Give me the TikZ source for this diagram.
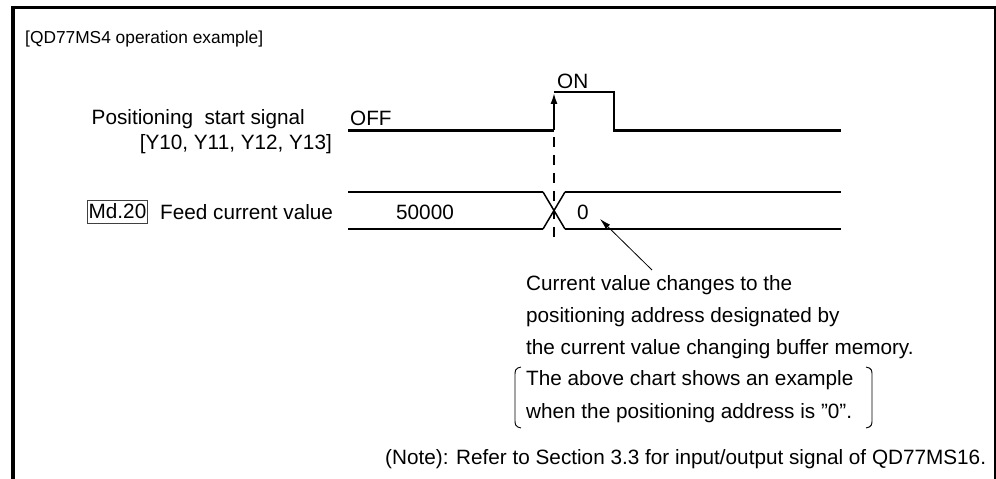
\documentclass[tikz,border=0pt]{standalone}
\usepackage{fontspec}
\setmainfont{Liberation Sans}
\usetikzlibrary{arrows.meta}
\begin{document}
\begin{tikzpicture}[x=1bp,y=-1bp,
  txt/.style={inner sep=0pt, font=\fontsize{20.8}{24}\selectfont},
  sig/.style={line width=2.7bp, line join=miter},
  xline/.style={line width=1.5bp},
  dashline/.style={line width=1.3bp, dash pattern=on 10bp off 8bp},
  frame/.style={line width=3.6bp}]
\useasboundingbox (0,0) rectangle (996,479);
% frame
\draw[line width=4bp] (13,479) -- (13,7.7);
\draw[line width=3.4bp] (11,7.7) -- (996,7.7);
\draw[line width=2.4bp] (994.8,6) -- (994.8,479);
% title
\node[inner sep=0pt, font=\fontsize{17.4}{20}\selectfont, anchor=base west] (title) at (25,43.5) {[QD77MS4 operation example]};
% positioning start signal
\node[txt, anchor=base east] (pss) at (305,125) {Positioning\ \ start signal};
\node[txt, anchor=base east] (yy) at (332,150) {[Y10, Y11, Y12, Y13]};
\node[txt, anchor=base west] (off) at (350,126) {OFF};
\node[txt, anchor=base west] (on) at (557,88.5) {ON};
\coordinate (s0) at (348,130.5);
\coordinate (s1) at (554,130.5);
\coordinate (s2) at (554,92);
\coordinate (s3) at (614,92);
\coordinate (s4) at (614,130.5);
\coordinate (s5) at (841,130.5);
\draw[sig] (s0) -- (s1);
\draw[sig, -{Latex[length=12bp,width=7bp]}] (s1) -- (s2);
\draw[sig] (s2) -- (s3) -- (s4) -- (s5);
% dashed
\coordinate (d0) at (554,137);
\coordinate (d1) at (554,243);
\draw[dashline] (d0) -- (d1);
% feed current value
\node[txt, draw=black!75, line width=0.9bp, inner xsep=0.8bp, minimum height=23bp] (md) at (117.5,211.5) {Md.20};
\node[txt, anchor=base west] (fcv) at (160,219.5) {Feed current value};
\coordinate (b0) at (348,192);
\coordinate (b1) at (543,192);
\coordinate (b2) at (565,229);
\coordinate (b3) at (841,229);
\coordinate (c0) at (348,229);
\coordinate (c1) at (543,229);
\coordinate (c2) at (565,192);
\coordinate (c3) at (841,192);
\draw[sig] (b0) -- (b1);
\draw[sig] (c0) -- (c1);
\draw[sig] (b2) -- (b3);
\draw[sig] (c2) -- (c3);
\draw[xline] (b1) -- (b2);
\draw[xline] (c1) -- (c2);
\node[txt, anchor=base] (v50000) at (425,219.5) {50000};
\node[txt, anchor=base] (v0) at (583,219.5) {0};
% annotation
\node[txt, anchor=base west] (n1) at (526,291) {Current value changes to the};
\node[txt, anchor=base west] (n2) at (526,323) {positioning address designated by};
\node[txt, anchor=base west] (n3) at (526,354.5) {the current value changing buffer memory.};
\node[txt, anchor=base west] (n4) at (526,386) {The above chart shows an example};
\node[txt, anchor=base west] (n5) at (526,418) {when the positioning address is "0".};
\coordinate (at) at (652,270);
\coordinate (ah) at (600,219);
\draw[line width=0.8bp, -{Latex[length=11bp,width=6bp]}] (at) -- (ah);
% brackets
\draw[line width=0.9bp] (521,367) .. controls (515,368) and (515,371) .. (515,375) -- (515,420) .. controls (515,424) and (515,427) .. (521,428);
\draw[line width=0.9bp] (866,367) .. controls (872,368) and (872,371) .. (872,375) -- (872,420) .. controls (872,424) and (872,427) .. (866,428);
% note
\node[txt, anchor=base west] (note) at (385,464) {(Note): Refer to Section 3.3 for input/output signal of QD77MS16.};
\end{tikzpicture}
\end{document}
